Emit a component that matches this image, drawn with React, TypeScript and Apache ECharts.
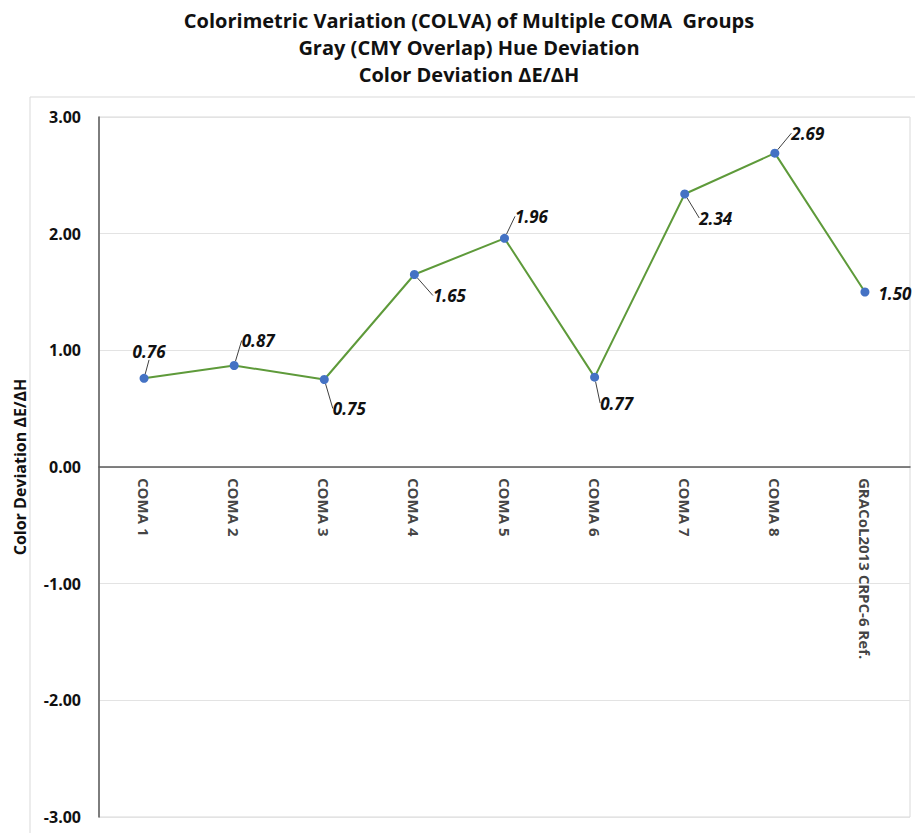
import React, { useEffect, useRef } from "react";
import * as echarts from "echarts";

const titleLines = [
  "Colorimetric Variation (COLVA) of Multiple COMA  Groups",
  "Gray (CMY Overlap) Hue Deviation",
  "Color Deviation ΔE/ΔH",
];
const categories = [
  "COMA 1",
  "COMA 2",
  "COMA 3",
  "COMA 4",
  "COMA 5",
  "COMA 6",
  "COMA 7",
  "COMA 8",
  "GRACoL2013 CRPC-6 Ref.",
];
const values = [0.76, 0.87, 0.75, 1.65, 1.96, 0.77, 2.34, 2.69, 1.5];
const yAxisName = "Color Deviation ΔE/ΔH";

// label offsets (styling) from the point
const labelOffsets: [number, number][] = [
  [5, -27],
  [24, -25],
  [25, 29],
  [35, 21],
  [27, -22],
  [22, 26],
  [31, 24],
  [33, -20],
  [30, 1],
];

const FONT = "'Open Sans', 'Noto Sans', sans-serif";

export default function App() {
  const ref = useRef<HTMLDivElement>(null);
  useEffect(() => {
    if (!ref.current) return;
    const chart = echarts.init(ref.current, undefined, { renderer: "svg" });
    chart.setOption({
      animation: false,
      backgroundColor: "#ffffff",
      title: {
        text: titleLines.join("\n"),
        left: 469,
        textAlign: "center",
        top: 7,
        padding: 0,
        textStyle: {
          fontFamily: FONT,
          fontWeight: "bold",
          fontSize: 20,
          lineHeight: 27,
          color: "#111",
        },
      },
      graphic: [
        {
          type: "rect",
          shape: { x: 30, y: 97, width: 900, height: 800 },
          style: { fill: "none", stroke: "#d9d9d9", lineWidth: 1 },
          silent: true,
        },
      ],
      grid: {
        left: 99,
        right: 5,
        top: 117,
        bottom: 16,
        show: true,
        borderColor: "#d9d9d9",
        borderWidth: 1,
        containLabel: false,
        outerBoundsMode: "none",
      },
      xAxis: {
        type: "category",
        data: categories,
        boundaryGap: true,
        axisLine: { onZero: true, lineStyle: { color: "#595959", width: 1.5 } },
        axisTick: { show: false },
        axisLabel: { show: false },
      },
      yAxis: {
        type: "value",
        min: -3,
        max: 3,
        interval: 1,
        name: yAxisName,
        nameLocation: "middle",
        nameGap: 71,
        nameRotate: 90,
        nameTextStyle: {
          fontFamily: FONT,
          fontWeight: "bold",
          fontSize: 16,
          color: "#111",
        },
        axisLine: { show: true, lineStyle: { color: "#595959", width: 1.5 } },
        axisTick: { show: false },
        splitLine: { lineStyle: { color: "#e3e3e3", width: 1 } },
        axisLabel: {
          formatter: (v: number) => v.toFixed(2),
          margin: 18,
          fontFamily: FONT,
          fontWeight: "bold",
          fontSize: 16,
          color: "#111",
        },
      },
      series: [
        {
          type: "line",
          data: values.map((v, i) => ({
            value: v,
            labelLine: { show: i !== values.length - 1 },
          })),
          symbol: "circle",
          symbolSize: 9,
          itemStyle: { color: "#4472C4" },
          lineStyle: { color: "#5E9A3A", width: 2 },
          label: {
            show: true,
            position: "inside",
            formatter: (p: any) => p.value.toFixed(2),
            fontFamily: FONT,
            fontWeight: "bold",
            fontStyle: "italic",
            fontSize: 17,
            color: "#111",
          },
          labelLine: {
            show: true,
            lineStyle: { color: "#404040", width: 1 },
          },
          labelLayout: (p: any) => {
            const o = labelOffsets[p.dataIndex] || [0, 0];
            return { dx: o[0], dy: o[1] };
          },
          z: 3,
        },
        {
          // category labels hanging from the zero line
          type: "scatter",
          data: categories.map((c) => [c, 0]),
          symbolSize: 0,
          silent: true,
          label: {
            show: true,
            position: "bottom",
            distance: 11,
            rotate: -90,
            align: "left",
            verticalAlign: "middle",
            formatter: (p: any) => p.name || p.value[0],
            fontFamily: FONT,
            fontWeight: "bold",
            fontSize: 15,
            color: "#111",
          },
          z: 1,
        },
      ],
    });
    return () => chart.dispose();
  }, []);
  return (
    <div
      ref={ref}
      style={{ position: "absolute", left: 0, top: 0, width: 915, height: 833 }}
    />
  );
}
